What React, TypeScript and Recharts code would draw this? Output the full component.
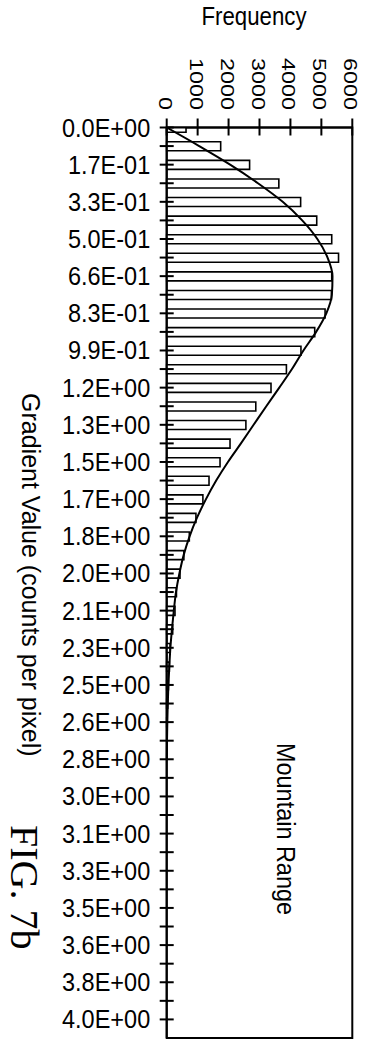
import React from "react";
import { ComposedChart, Bar, Line, XAxis, YAxis, ReferenceArea } from "recharts";

// gradient bin labels (every other tick)
const yLabels = [
  "0.0E+00", "1.7E-01", "3.3E-01", "5.0E-01", "6.6E-01", "8.3E-01", "9.9E-01",
  "1.2E+00", "1.3E+00", "1.5E+00", "1.7E+00", "1.8E+00", "2.0E+00", "2.1E+00",
  "2.3E+00", "2.5E+00", "2.6E+00", "2.8E+00", "3.0E+00", "3.1E+00", "3.3E+00",
  "3.5E+00", "3.6E+00", "3.8E+00", "4.0E+00",
];

const xTicks = [0, 1000, 2000, 3000, 4000, 5000, 6000];

// histogram counts per bin
const counts = [
  625, 1745, 2680, 3625, 4330, 4850, 5335, 5555, 5335, 5325,
  5120, 4785, 4340, 3870, 3372, 2880, 2560, 2047, 1724, 1368,
  1170, 945, 731, 555, 430, 315, 268, 194, 110, 85,
  55, 30, 15,
];

// fitted curve
const fit = [
  0, 1050, 2050, 2950, 3750, 4380, 4870, 5200, 5360, 5340,
  5160, 4830, 4420, 4050, 3640, 3220, 2810, 2400, 1980, 1600,
  1270, 980, 740, 550, 410, 300, 230, 170, 120, 85,
  55, 35, 20, 10, 5,
];

const yTicks = Array.from({ length: 49 }, (_, i) => i);

const data = fit.map((f, i) => ({ bin: i, count: counts[i], fit: f }));

const FONT = "'Liberation Sans', Arial, sans-serif";

function FreqTick(props: any) {
  const { x, y, payload } = props;
  const label = String(payload.value);
  const bx = x - 8;
  const by = y - 17.5;
  return (
    <g>
      <line x1={x} x2={x} y1={y - 9} y2={y + 8} stroke="#000" strokeWidth={2} />
      <text
        x={bx}
        y={by}
        transform={`rotate(90 ${bx} ${by})`}
        textAnchor="end"
        fontSize={18.5}
        fontFamily={FONT}
        fill="#000"
        textLength={13 * label.length}
        lengthAdjust="spacingAndGlyphs"
      >
        {label}
      </text>
    </g>
  );
}

function GradTick(props: any) {
  const { x, y, payload } = props;
  const v = payload.value;
  const label = v % 2 === 0 ? yLabels[v / 2] : null;
  return (
    <g>
      <line x1={x - 7} x2={x + 7} y1={y} y2={y} stroke="#000" strokeWidth={2} />
      {label && (
        <text
          transform={`translate(${x - 16.5},${y + 9}) scale(0.94,1)`}
          textAnchor="end"
          fontSize={25}
          fontFamily={FONT}
          fill="#000"
        >
          {label}
        </text>
      )}
    </g>
  );
}

export default function App() {
  return (
    <div style={{ position: "absolute", left: 0, top: 0, width: 370, height: 1044, background: "#fff" }}>
      <ComposedChart
        width={370}
        height={1044}
        data={data}
        layout="vertical"
        margin={{ top: 126.5, right: 17.7, bottom: 6, left: 165.7 }}
      >
        <XAxis
          type="number"
          orientation="top"
          domain={[0, 6000]}
          ticks={xTicks}
          height={1}
          tickSize={0}
          tickMargin={0}
          tickLine={false}
          axisLine={{ stroke: "#000", strokeWidth: 2 }}
          tick={<FreqTick />}
          interval={0}
        />
        <YAxis
          type="number"
          dataKey="bin"
          domain={[0, 49]}
          ticks={yTicks}
          width={1}
          tickSize={0}
          tickMargin={0}
          tickLine={false}
          axisLine={{ stroke: "#000", strokeWidth: 2 }}
          tick={<GradTick />}
          interval={0}
          allowDataOverflow
        />
        <ReferenceArea x1={0} x2={6000} y1={0} y2={49} fill="none" stroke="#000" strokeWidth={2} />
        <Bar
          dataKey="count"
          barSize={9}
          fill="#fff"
          stroke="#000"
          strokeWidth={1.6}
          isAnimationActive={false}
        />
        <Line
          type="monotone"
          dataKey="fit"
          stroke="#000"
          strokeWidth={2}
          dot={false}
          isAnimationActive={false}
        />
      </ComposedChart>
      <svg
        width={370}
        height={1044}
        style={{ position: "absolute", left: 0, top: 0, pointerEvents: "none" }}
      >
        <text x={254} y={25} textAnchor="middle" fontSize={25} fontFamily={FONT} textLength={105} lengthAdjust="spacingAndGlyphs">
          Frequency
        </text>
        <text x={22} y={393} transform="rotate(90 22 393)" fontSize={25} fontFamily={FONT}>
          Gradient Value (counts per pixel)
        </text>
        <text x={277} y={743} transform="rotate(90 277 743)" fontSize={25} fontFamily={FONT} textLength={172} lengthAdjust="spacingAndGlyphs">
          Mountain Range
        </text>
        <text x={11} y={825} transform="rotate(90 11 825)" fontSize={40} fontFamily="'Liberation Serif', 'Times New Roman', serif">
          FIG. 7b
        </text>
      </svg>
    </div>
  );
}
